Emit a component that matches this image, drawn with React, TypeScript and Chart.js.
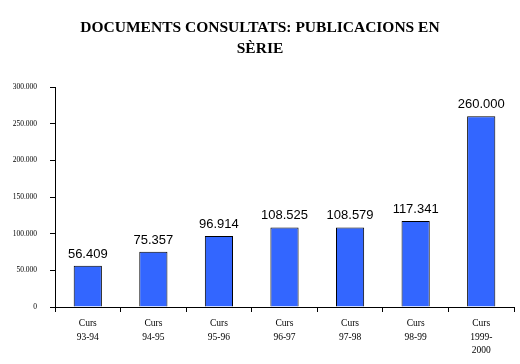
import React, { useEffect, useRef } from "react";
import { Chart, registerables } from "chart.js";

Chart.register(...registerables);

const titleLines = ["DOCUMENTS CONSULTATS: PUBLICACIONS EN", "SÈRIE"];
const categories: string[][] = [
  ["Curs", "93-94"],
  ["Curs", "94-95"],
  ["Curs", "95-96"],
  ["Curs", "96-97"],
  ["Curs", "97-98"],
  ["Curs", "98-99"],
  ["Curs", "1999-", "2000"],
];
const values = [56409, 75357, 96914, 108525, 108579, 117341, 260000];
const yMax = 300000;
const yStep = 50000;

function fmt(n: number): string {
  const s = Math.round(n).toString();
  return s.replace(/\B(?=(\d{3})+(?!\d))/g, ".");
}

const overlayPlugin = {
  id: "overlay",
  afterDatasetsDraw(chart: any) {
    const ctx = chart.ctx;
    ctx.save();
    const meta = chart.getDatasetMeta(0);
    ctx.fillStyle = "#000";
    ctx.font = "13px 'Liberation Sans', Arial, sans-serif";
    ctx.textAlign = "center";
    ctx.textBaseline = "alphabetic";
    meta.data.forEach((el: any, i: number) => {
      ctx.fillText(fmt(values[i]), el.x, el.y - 8);
    });
    ctx.font = "bold 15.5px 'Liberation Serif', 'Times New Roman', serif";
    ctx.textBaseline = "middle";
    titleLines.forEach((t, i) => {
      ctx.fillText(t, 260, 28 + i * 20.5);
    });
    ctx.restore();
  },
};

export default function App() {
  const ref = useRef<HTMLCanvasElement | null>(null);
  useEffect(() => {
    if (!ref.current) return;
    const chart = new Chart(ref.current, {
      type: "bar",
      data: {
        labels: categories,
        datasets: [
          {
            data: values,
            backgroundColor: "#3366FF",
            borderColor: "#000000",
            borderWidth: 1,
            barPercentage: 0.43,
            categoryPercentage: 1,
          },
        ],
      },
      options: {
        animation: false,
        responsive: false,
        maintainAspectRatio: false,
        layout: { padding: { top: 87, left: 0, right: 6, bottom: 0 } },
        plugins: {
          legend: { display: false },
          title: { display: false },
          tooltip: { enabled: false },
        },
        scales: {
          x: {
            offset: true,
            afterFit: (s: any) => {
              s.height = 57;
            },
            border: { color: "#000", width: 1 },
            grid: {
              display: true,
              drawOnChartArea: false,
              drawTicks: true,
              tickLength: 5,
              color: "#000",
              offset: true,
            },
            ticks: {
              color: "#000",
              padding: 5,
              maxRotation: 0,
              autoSkip: false,
              font: { family: "'Liberation Serif', 'Times New Roman', serif", size: 9.5, lineHeight: 1.42 },
            },
          },
          y: {
            min: 0,
            max: yMax,
            afterFit: (s: any) => {
              s.width = 55;
            },
            border: { color: "#000", width: 1 },
            grid: {
              display: true,
              drawOnChartArea: false,
              drawTicks: true,
              tickLength: 5,
              color: "#000",
            },
            ticks: {
              stepSize: yStep,
              color: "#000",
              padding: 13,
              callback: (v: any) => fmt(Number(v)),
              font: { family: "'Liberation Serif', 'Times New Roman', serif", size: 7.5 },
            },
          },
        },
      },
      plugins: [overlayPlugin],
    });
    return () => chart.destroy();
  }, []);
  return (
    <div style={{ position: "fixed", left: 0, top: 0, width: 520, height: 364, background: "#fff" }}>
      <canvas ref={ref} width={520} height={364} style={{ width: 520, height: 364 }} />
    </div>
  );
}
